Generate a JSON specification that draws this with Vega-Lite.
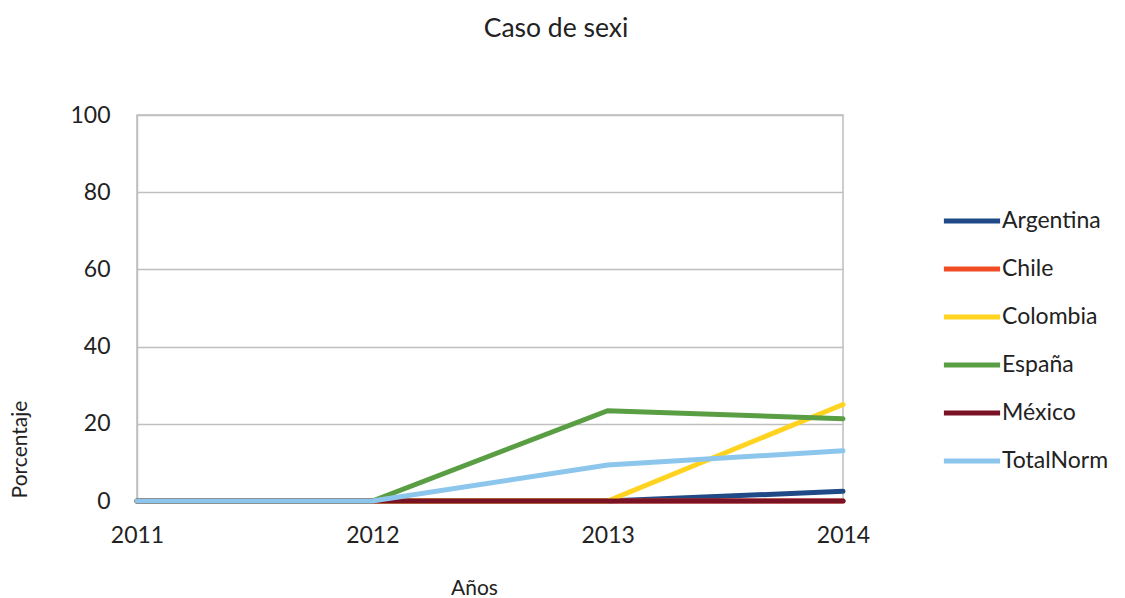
{
  "$schema": "https://vega.github.io/schema/vega-lite/v6.json",
  "width": 706,
  "height": 386,
  "autosize": {"type": "none"},
  "padding": {"left": 137, "top": 115, "right": 282, "bottom": 97},
  "background": "white",
  "config": {
    "font": "Lato",
    "view": {"stroke": "#bfbfbf", "strokeWidth": 1.5}
  },
  "title": {
    "text": "Caso de sexi",
    "fontSize": 26.5,
    "fontWeight": "normal",
    "color": "#222222",
    "anchor": "middle",
    "dx": 66,
    "offset": 62,
    "font": "Lato"
  },
  "data": {
    "values": [
      {"pais": "Argentina", "anio": "2011", "valor": 0},
      {"pais": "Argentina", "anio": "2012", "valor": 0},
      {"pais": "Argentina", "anio": "2013", "valor": 0},
      {"pais": "Argentina", "anio": "2014", "valor": 2.5},
      {"pais": "Chile", "anio": "2011", "valor": 0},
      {"pais": "Chile", "anio": "2012", "valor": 0},
      {"pais": "Chile", "anio": "2013", "valor": 0},
      {"pais": "Chile", "anio": "2014", "valor": 0},
      {"pais": "Colombia", "anio": "2011", "valor": 0},
      {"pais": "Colombia", "anio": "2012", "valor": 0},
      {"pais": "Colombia", "anio": "2013", "valor": 0},
      {"pais": "Colombia", "anio": "2014", "valor": 25},
      {"pais": "España", "anio": "2011", "valor": 0},
      {"pais": "España", "anio": "2012", "valor": 0},
      {"pais": "España", "anio": "2013", "valor": 23.4},
      {"pais": "España", "anio": "2014", "valor": 21.3},
      {"pais": "México", "anio": "2011", "valor": 0},
      {"pais": "México", "anio": "2012", "valor": 0},
      {"pais": "México", "anio": "2013", "valor": 0},
      {"pais": "México", "anio": "2014", "valor": 0},
      {"pais": "TotalNorm", "anio": "2011", "valor": 0},
      {"pais": "TotalNorm", "anio": "2012", "valor": 0},
      {"pais": "TotalNorm", "anio": "2013", "valor": 9.3},
      {"pais": "TotalNorm", "anio": "2014", "valor": 13.0}
    ]
  },
  "mark": {"type": "line", "strokeWidth": 5, "strokeCap": "round", "clip": false},
  "encoding": {
    "x": {
      "field": "anio",
      "type": "ordinal",
      "scale": {"type": "point", "padding": 0},
      "axis": {
        "title": "Años",
        "labelAngle": 0,
        "labelFontSize": 23,
        "labelColor": "#222222",
        "labelPadding": 23,
        "ticks": false,
        "domainColor": "#bfbfbf",
        "domainWidth": 1.5,
        "titleFontSize": 21,
        "titleFontWeight": "normal",
        "titleColor": "#222222",
        "titleX": 337,
        "titleY": 87,
        "titleBaseline": "middle",
        "titleAlign": "center"
      }
    },
    "y": {
      "field": "valor",
      "type": "quantitative",
      "scale": {"domain": [0, 100], "nice": false},
      "axis": {
        "title": "Porcentaje",
        "values": [0, 20, 40, 60, 80, 100],
        "labelFontSize": 23,
        "labelColor": "#222222",
        "labelPadding": 27,
        "ticks": false,
        "domainColor": "#bfbfbf",
        "domainWidth": 1.5,
        "gridColor": "#bfbfbf",
        "gridWidth": 1.5,
        "titleFontSize": 21,
        "titleFontWeight": "normal",
        "titleColor": "#222222",
        "titleAngle": 270,
        "titleX": -117,
        "titleY": 334,
        "titleAlign": "center",
        "titleBaseline": "middle"
      }
    },
    "color": {
      "field": "pais",
      "type": "nominal",
      "scale": {
        "domain": ["Argentina", "Chile", "Colombia", "España", "México", "TotalNorm"],
        "range": ["#1f4a86", "#f24c27", "#ffd320", "#5a9e44", "#7a1225", "#8dc6ed"]
      },
      "legend": {
        "title": null,
        "orient": "none",
        "legendX": 818,
        "legendY": 89,
        "symbolType": "M-2,0H2",
        "symbolSize": 790,
        "symbolStrokeWidth": 5,
        "labelFontSize": 23,
        "labelColor": "#222222",
        "labelOffset": 13,
        "rowPadding": 19,
        "padding": 0
      }
    }
  }
}
